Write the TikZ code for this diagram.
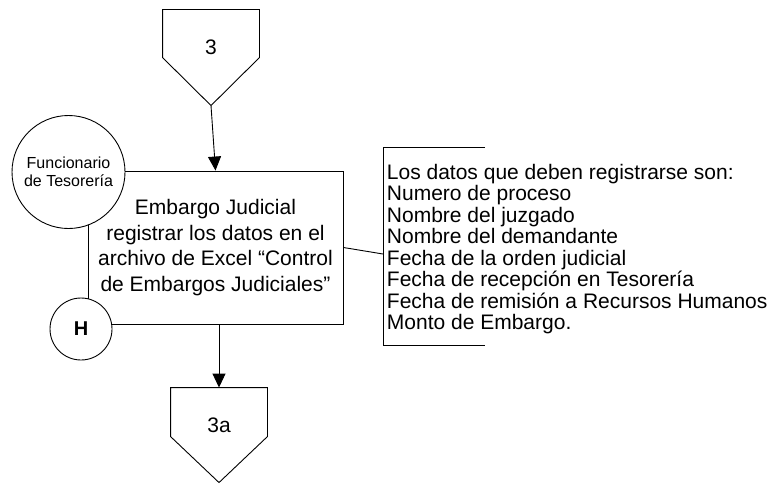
\documentclass[tikz,border=0pt]{standalone}
\usepackage{fontspec}
\setmainfont{Liberation Sans}
\usetikzlibrary{arrows.meta, calc}

\begin{document}
\begin{tikzpicture}[x=1pt, y=-1pt, line width=0.9pt,
    offpage/.style={minimum width=96pt, minimum height=74pt, inner sep=0pt, font=\fontsize{21}{25}\selectfont},
    process/.style={rectangle, draw, fill=white, minimum width=255pt, minimum height=153pt, align=center, inner sep=0pt, font=\fontsize{21}{25.7}\selectfont},
    actor/.style={circle, draw, fill=white, minimum size=113pt, inner sep=0pt, align=center, font=\fontsize{16}{18}\selectfont},
    marker/.style={circle, draw, fill=white, minimum size=62pt, inner sep=0pt, font=\fontsize{20}{24}\selectfont\bfseries},
    notes/.style={align=left, inner sep=0pt, font=\fontsize{21}{21.5}\selectfont},
    arrow/.style={-{Triangle[length=14pt,width=13pt]}}]

    \useasboundingbox (0,0) rectangle (778,487);

    % off-page connectors
    \node [offpage] (c3) at (211,47) {3};
    \draw (c3.north west) -- (c3.north east) -- ($(c3.north east)+(0,48)$)
        -- ($(c3.north)+(0,96)$) coordinate (c3tip) -- ($(c3.north west)+(0,48)$) -- cycle;

    \node [offpage] (c3a) at (219,425) {3a};
    \draw (c3a.north west) -- (c3a.north east) -- ($(c3a.north east)+(0,49)$)
        -- ($(c3a.north)+(0,95)$) -- ($(c3a.north west)+(0,49)$) -- cycle;

    % main step
    \node [process] (reg) at (215.5,247.5) {Embargo Judicial\\registrar los datos en el\\archivo de Excel “Control\\de Embargos Judiciales”};
    \node [actor] (func) at (68.5,172) {Funcionario\\de Tesorería};
    \node [marker] (h) at (81,329) {H};

    % annotation
    \node [notes, anchor=west] (datos) at (386.5,249) {Los datos que deben registrarse son:\\Numero de proceso\\Nombre del juzgado\\Nombre del demandante\\Fecha de la orden judicial\\Fecha de recepción en Tesorería\\Fecha de remisión a Recursos Humanos\\Monto de Embargo.};
    \coordinate (brtop) at (383,147);
    \coordinate (brbot) at (383,345);
    \coordinate (brmid) at (383,254);
    \draw ($(brtop)+(102,0)$) -- (brtop) -- (brbot) -- ($(brbot)+(102,0)$);
    \draw (reg.east) -- (brmid);

    \draw [arrow] (c3tip) -- (reg.north);
    \draw [arrow] (reg.south -| c3a.north) -- (c3a.north);
\end{tikzpicture}
\end{document}
